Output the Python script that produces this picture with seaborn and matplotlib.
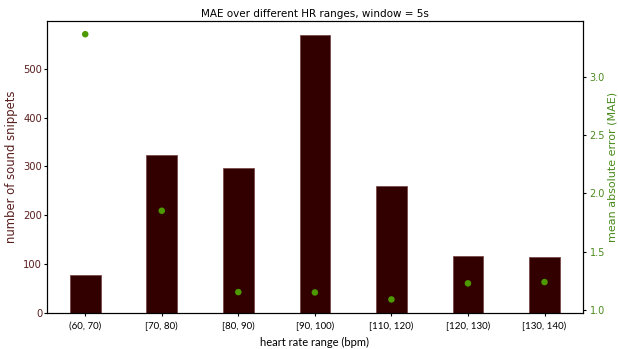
import matplotlib
matplotlib.use("Agg")
import matplotlib.pyplot as plt
import seaborn as sns
import pandas as pd

# heart-rate bins, snippet counts and MAE per bin
hr_ranges = ["(60, 70)", "[70, 80)", "[80, 90)", "[90, 100)", "[110, 120)", "[120, 130)", "[130, 140)"]
snippet_counts = [78, 324, 296, 570, 260, 116, 115]
mae_values = [3.365, 1.85, 1.152, 1.149, 1.089, 1.227, 1.238]

bar_color = "#330000"
count_color = "#5a1e1e"
mae_color = "#4c9a00"
mae_text = "#4a8a1c"

df = pd.DataFrame({"range": hr_ranges, "count": snippet_counts, "mae": mae_values})

fig = plt.figure(figsize=(6.18, 3.49), dpi=100)
ax = fig.add_axes([0.076, 0.104, 0.867, 0.836])

sns.barplot(data=df, x="range", y="count", color=bar_color, width=0.4,
            edgecolor="#7a4a4a", linewidth=0.6, saturation=1, ax=ax)
ax.set_ylim(0, 598.5)
ax.set_xlim(-0.5, 6.5)
ax.set_ylabel("number of sound snippets", color=count_color, fontsize=8.4, labelpad=4)
ax.tick_params(axis="y", labelcolor=count_color, labelsize=7.2, length=2.2, pad=1.2)
ax.tick_params(axis="x", labelsize=7, length=2.5, pad=4)
for lbl in ax.get_xticklabels():
    lbl.set_family("Lato")
ax.set_xlabel("heart rate range (bpm)", family="Lato", fontsize=8, labelpad=4.5)
ax.set_title("MAE over different HR ranges, window = 5s", fontsize=7.5, pad=3)

ax2 = ax.twinx()
sns.scatterplot(data=df, x="range", y="mae", color=mae_color, s=22,
                edgecolor="none", ax=ax2, zorder=3)
ax2.set_xlim(-0.5, 6.5)
ax2.set_ylabel("mean absolute error (MAE)", color=mae_text, fontsize=8, labelpad=2)
ax2.tick_params(axis="y", labelcolor=mae_text, labelsize=7, length=2.5, pad=2.5)
ax2.set_yticks([1.0, 1.5, 2.0, 2.5, 3.0])

fig.savefig("out.png", dpi=100)
